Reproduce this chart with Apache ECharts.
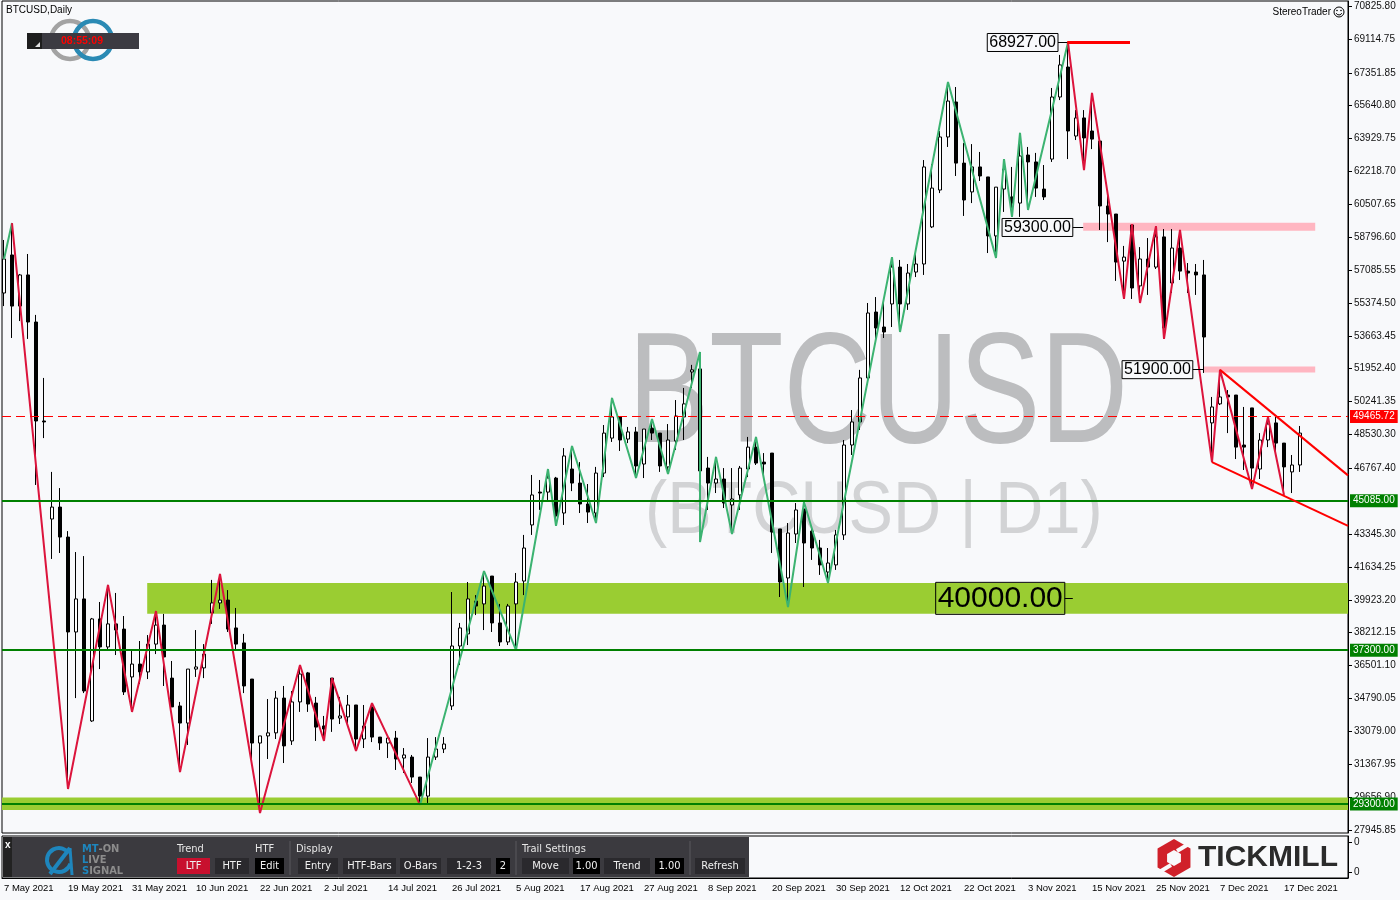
<!DOCTYPE html>
<html><head><meta charset="utf-8">
<script src="https://cdn.jsdelivr.net/npm/echarts@6/dist/echarts.min.js"></script>
<style>html,body{margin:0;padding:0;background:#f8f9fb;}#chart{width:1400px;height:900px;}</style>
</head><body><div id="chart"></div>
<script>
// ---------- DATA ----------
const dateTickIndex = [0,8,16,24,32,40,48,56,64,72,80,88,96,104,112,120,128,136,144,152,160];
const dateTicks = ['7 May 2021','19 May 2021','31 May 2021','10 Jun 2021','22 Jun 2021','2 Jul 2021','14 Jul 2021','26 Jul 2021','5 Aug 2021','17 Aug 2021','27 Aug 2021','8 Sep 2021','20 Sep 2021','30 Sep 2021','12 Oct 2021','22 Oct 2021','3 Nov 2021','15 Nov 2021','25 Nov 2021','7 Dec 2021','17 Dec 2021'];
const yTicks = [70825.80,69114.75,67351.85,65640.80,63929.75,62218.70,60507.65,58796.60,57085.55,55374.50,53663.45,51952.40,50241.35,48530.30,46767.40,43345.30,41634.25,39923.20,38212.15,36501.10,34790.05,33079.00,31367.95,29656.90,27945.85];

const opens = [55890,57870,55210,56830,54380,49230,44130,44750,43190,38250,
39970,33620,38930,37470,38670,38400,35910,36580,36170,37620,
38610,35850,34400,33510,36320,36380,39240,39760,39910,38460,
37680,35800,32470,32840,33000,34810,32580,34610,36120,34550,
33360,35850,33770,33830,34450,32680,34350,32780,32470,32730,
31690,31740,30700,29710,31740,32160,34400,37520,38150,39860,
39710,41160,38720,37730,39710,40900,43820,45530,45530,46260,
44440,46730,46000,44910,44440,46520,48340,49440,48290,48660,
46990,48860,48600,46840,48190,49440,51780,51940,46780,46000,
46210,44860,45380,46730,47870,47090,47560,43610,41060,43350,
44650,43500,42620,41370,41740,43300,47980,49180,51470,54900,
54120,55320,57240,55320,56980,57400,59330,61250,64010,65830,
62650,61150,62450,61930,58860,61300,60890,60570,63070,62710,
61300,62860,66090,67650,64060,65000,64320,63800,60420,60000,
57550,59430,56260,57660,57240,58810,56410,58230,57030,56980,
56830,49130,50120,50580,50580,47980,49910,46730,48240,49130,
48080,46580,46940];
const highs = [58650,59530,56880,57920,54750,51470,46580,45740,43500,42410,
42200,38980,39810,40700,40280,39080,37360,37780,38090,39340,
39190,36740,34610,36320,38350,37620,40960,41270,40430,39500,
38150,35800,32840,34760,35180,35440,35180,36530,36170,34870,
33880,35850,34870,34970,34450,34450,34550,32780,32780,33100,
32210,31850,30700,32730,32780,32780,40330,38720,40850,40170,
41420,41160,39710,39710,41320,43300,46420,46160,46730,46320,
47820,47930,47090,45950,46840,49020,50430,49440,48920,48920,
48810,49330,48600,49070,50320,50950,52150,52820,47360,47360,
46780,46780,46890,48400,48400,47560,47560,43610,43920,44960,
45010,43610,43040,42620,43560,48240,49800,51890,55370,55680,
55580,57760,57610,57400,58180,62810,62600,64320,66870,66610,
63700,63640,63230,61930,61400,62860,62450,64220,63490,63180,
62550,66560,68280,68927,65410,65410,66300,63900,60990,60000,
58340,59480,58280,58750,59370,59220,59220,59170,57450,57400,
57610,50480,51890,50840,50580,49960,49910,48600,49440,49440,
48080,47460,48970];
const lows = [55210,53550,54430,53500,45900,48340,42050,42360,30080,34810,
35070,33570,36320,37310,37050,34970,34090,35540,35800,37100,
35440,34350,30960,32370,35910,35850,38670,39450,38250,37310,
35070,31590,28830,31640,32680,31430,32370,34090,34090,32580,
32580,33050,33460,33510,32060,32210,32520,32110,31690,31070,
30910,30390,29250,29350,31590,31950,34190,36530,37570,39130,
38350,38250,37520,37570,37310,40170,43300,44600,45120,43770,
43820,45580,44440,43920,43920,46310,48140,47670,48080,46260,
46260,48240,46580,46470,47720,48240,50950,42930,44600,45480,
44700,43350,44600,46310,46940,46310,42360,40070,39550,42880,
40590,42000,41220,40800,41480,43040,47460,48760,51100,53450,
53550,54120,53860,55010,56720,56830,59270,61090,63490,61980,
59900,60570,61720,57970,57710,60110,59850,59850,60210,60890,
60730,62710,65930,62860,63850,62290,63380,59170,58540,56520,
55580,55580,55370,55790,57140,53500,55890,56570,55890,55790,
51730,47090,50060,48600,47250,46680,45690,46210,47870,47620,
45380,45480,46580];
const closes = [57660,55210,56830,54380,49230,49180,44750,43190,38250,39970,
35180,38930,37470,38670,38350,35130,36580,36170,37620,38610,
36950,34350,33510,36320,36430,37100,39760,39910,38400,37620,
35440,32470,32840,33000,34810,32320,34610,36060,34500,33300,
33200,33720,33880,34450,32680,33360,32780,32470,32730,31640,
31850,30700,29710,31740,32160,32420,37520,38460,39970,39600,
40640,38720,37730,39600,40850,42620,45380,45480,46260,44290,
47410,46000,44910,44490,46520,48600,49440,48240,48660,46890,
48810,48600,46890,48240,49490,50120,51890,46630,46000,46210,
44960,45170,46780,47870,47040,46990,43450,40850,43400,44600,
42880,42620,41740,41840,43300,47980,49180,51470,54850,54070,
53860,57240,55320,56930,57400,62450,61350,64010,65880,62650,
60730,62450,61980,58860,61400,62340,60570,63020,62710,61350,
60890,66090,67760,64320,65000,63960,63900,60420,60000,57500,
57760,56150,57660,57240,58810,54070,58230,57030,56930,56830,
53600,49960,50480,50480,47870,47870,46780,48240,49070,48080,
46840,46940,48600];

// zigzag swing points [bar index, price]
const zzGreenA = [[0,57660],[1,59530]];
const zzRedA = [[1,59530],[8,30080],[13,40700],[16,34090],[19,39340],[22,30960],[27,41270],[32,28830],[37,36530],[40,32580],[41,35850],[44,32060],[46,34550],[52,29250]];
const zzGreenB = [[52,29250],[60,41420],[64,37310],[68,46730],[69,43770],[71,47930],[74,43920],[76,50430],[79,46260],[81,49330],[83,46470],[87,52820],[87,42930],[89,47360],[91,43350],[94,48400],[98,39550],[100,45010],[103,40800],[111,57760],[112,53860],[118,66870],[124,57710],[125,62860],[126,59850],[127,64220],[128,60210],[133,68927]];
const zzRedB = [[133,68927],[135,62290],[136,66300],[140,55580],[141,59480],[142,55370],[144,59370],[145,53500],[147,59170],[151,47090],[152,51890],[156,45690],[158,49440],[160,45380]];

// levels
const bidPrice = 49465.72;
const greenLevels = [45085, 37300, 29300];
const bandBottom = [28990, 29630];
const band40k = [39200, 40800];
const pinkBand59 = [59130, 59550];
const pinkBand52 = [51750, 52060];
const athLevel = 68927;
const annLevels = [68927, 59300, 51900, 40000];
const trendUpper = [[152, 51890], [168, 46400]];
const trendLower = [[151, 47090], [168, 43770]];

// ---------- CHART ----------
const candleData = opens.map((o, i) => [i, o, closes[i], lows[i], highs[i]]);
const FONT = 'Liberation Sans';
const chart = echarts.init(document.getElementById('chart'), null, {renderer: 'canvas'});

const axisBoxLabel = (bg) => ({show: true, position: 'end', distance: 2, color: '#fff', backgroundColor: bg,
  fontSize: 10, fontFamily: FONT, padding: [2, 3, 1, 3], formatter: p => Number(p.value).toFixed(2)});

const annConf = [
  {x: [131.75, 132.9], size: 16},
  {x: [133.6, 134.9], size: 16},
  {x: [148.6, 149.9], size: 16},
  {x: [132.6, 133.6], size: 30}
];
const annLines = annLevels.map((v, k) => [
  {coord: [annConf[k].x[0], v], lineStyle: {color: '#000', width: 1, type: 'solid'},
   label: {show: true, position: 'start', distance: 0, color: '#000', fontSize: annConf[k].size, fontFamily: FONT,
     borderColor: '#000', borderWidth: 1, padding: [2, 2, 0, 2], formatter: () => v.toFixed(2)}},
  {coord: [annConf[k].x[1], v]}
]);

const markLineData = [
  {yAxis: bidPrice, lineStyle: {color: '#ff0000', width: 1, type: [9, 5]}, label: axisBoxLabel('#ff0000')},
  ...greenLevels.map(v => ({yAxis: v, lineStyle: {color: '#008000', width: 2, type: 'solid'}, label: axisBoxLabel('#008000')})),
  [{coord: [132.9, athLevel], lineStyle: {color: '#ff0000', width: 3, type: 'solid'}, label: {show: false}}, {coord: [140.75, athLevel]}],
  [{coord: trendUpper[0], lineStyle: {color: '#ff0000', width: 2, type: 'solid'}, label: {show: false}}, {coord: trendUpper[1]}],
  [{coord: trendLower[0], lineStyle: {color: '#ff0000', width: 2, type: 'solid'}, label: {show: false}}, {coord: trendLower[1]}],
  ...annLines
];

const markAreaData = [
  [{xAxis: -0.25, yAxis: bandBottom[0], itemStyle: {color: '#9acd32'}}, {xAxis: 168, yAxis: bandBottom[1]}],
  [{xAxis: 17.9, yAxis: band40k[0], itemStyle: {color: '#9acd32'}}, {xAxis: 168, yAxis: band40k[1]}],
  [{xAxis: 134.9, yAxis: pinkBand59[0], itemStyle: {color: '#ffb6c1'}}, {xAxis: 163.9, yAxis: pinkBand59[1]}],
  [{xAxis: 149.9, yAxis: pinkBand52[0], itemStyle: {color: '#ffb6c1'}}, {xAxis: 163.9, yAxis: pinkBand52[1]}]
];

const zzSeries = (data, color) => ({type: 'line', data, xAxisIndex: 0, yAxisIndex: 0, symbol: 'none', z: 4,
  lineStyle: {color, width: 2}, silent: true, animation: false});

// decorations
const G = [];
// watermark
G.push({type: 'text', x: 628, y: 398, scaleX: 0.77, z: -10, silent: true,
  style: {text: 'BTCUSD', fontSize: 158, fontFamily: FONT, fill: '#bcbdbf', verticalAlign: 'middle', align: 'left'}});
G.push({type: 'text', x: 645, y: 513, scaleX: 0.9, z: -10, silent: true,
  style: {text: '(BTCUSD | D1)', fontSize: 74, fontFamily: FONT, fill: '#d2d3d5', verticalAlign: 'middle', align: 'left'}});
// top-left
G.push({type: 'text', x: 6, y: 10, style: {text: 'BTCUSD,Daily', fontSize: 10, fontFamily: FONT, fill: '#000', verticalAlign: 'middle'}});
G.push({type: 'circle', shape: {cx: 70, cy: 40, r: 19}, style: {fill: 'none', stroke: '#a3a3a3', lineWidth: 4.5}});
G.push({type: 'circle', shape: {cx: 93, cy: 40, r: 19}, style: {fill: 'none', stroke: '#2a8ab4', lineWidth: 4.5}});
G.push({type: 'rect', shape: {x: 27, y: 33, width: 112, height: 16}, style: {fill: '#3c3b42'}});
G.push({type: 'rect', shape: {x: 27, y: 33, width: 15, height: 16}, style: {fill: '#1e1e1e'}});
G.push({type: 'polygon', shape: {points: [[35, 47], [40, 42], [40, 47]]}, style: {fill: '#e0e0e0'}});
G.push({type: 'text', x: 61, y: 41, style: {text: '08:55:09', fontSize: 10.5, fontWeight: 'bold', fontFamily: FONT, fill: '#ff0000', verticalAlign: 'middle'}});
// top-right
G.push({type: 'text', x: 1331, y: 12, style: {text: 'StereoTrader', fontSize: 10, fontFamily: FONT, fill: '#000', verticalAlign: 'middle', align: 'right'}});
G.push({type: 'circle', shape: {cx: 1339, cy: 12, r: 5}, style: {fill: 'none', stroke: '#000', lineWidth: 1}});
G.push({type: 'circle', shape: {cx: 1337, cy: 10.5, r: 0.8}, style: {fill: '#000'}});
G.push({type: 'circle', shape: {cx: 1341, cy: 10.5, r: 0.8}, style: {fill: '#000'}});
G.push({type: 'arc', shape: {cx: 1339, cy: 12, r: 3, startAngle: 0.4, endAngle: Math.PI - 0.4}, style: {stroke: '#000', lineWidth: 1, fill: 'none'}});
// toolbar
G.push({type: 'rect', shape: {x: 3, y: 837, width: 746, height: 40}, style: {fill: '#3b3a3f'}});
G.push({type: 'rect', shape: {x: 3, y: 837, width: 9, height: 40}, style: {fill: '#222'}});
G.push({type: 'text', x: 5, y: 845, style: {text: 'x', fontSize: 10, fontWeight: 'bold', fontFamily: FONT, fill: '#fff', verticalAlign: 'middle'}});
G.push({type: 'arc', shape: {cx: 59, cy: 860, r: 12, startAngle: 0.3, endAngle: Math.PI * 2 - 0.6}, style: {stroke: '#1e86bd', lineWidth: 4, fill: 'none'}});
G.push({type: 'line', shape: {x1: 50, y1: 874, x2: 70, y2: 848}, style: {stroke: '#1e86bd', lineWidth: 4}});
G.push({type: 'line', shape: {x1: 70, y1: 848, x2: 72, y2: 875}, style: {stroke: '#1e86bd', lineWidth: 3}});
const tbFont = "'DejaVu Sans Condensed','DejaVu Sans'";
const logoRich = {b: {fill: '#1e86bd', fontSize: 11, fontWeight: 'bold', fontFamily: tbFont}, g: {fill: '#8c8c8c', fontSize: 11, fontWeight: 'bold', fontFamily: tbFont}};
G.push({type: 'text', x: 82, y: 849, style: {text: '{b|MT}{g|-ON}', rich: logoRich, verticalAlign: 'middle'}});
G.push({type: 'text', x: 82, y: 860, style: {text: '{b|L}{g|IVE}', rich: logoRich, verticalAlign: 'middle'}});
G.push({type: 'text', x: 82, y: 871, style: {text: '{b|S}{g|IGNAL}', rich: logoRich, verticalAlign: 'middle'}});
[['Trend', 177], ['HTF', 255], ['Display', 296], ['Trail Settings', 522]].forEach(([t, x]) =>
  G.push({type: 'text', x, y: 849, style: {text: t, fontSize: 11, fontFamily: tbFont, fill: '#e6e6e6', verticalAlign: 'middle'}}));
[[177, 33, 'LTF', '#c8102e'], [215, 34, 'HTF', '#2a292d'], [255, 29, 'Edit', '#000'], [298, 40, 'Entry', '#2a292d'],
 [343, 53, 'HTF-Bars', '#2a292d'], [400, 41, 'O-Bars', '#2a292d'], [447, 44, '1-2-3', '#2a292d'], [496, 14, '2', '#000'],
 [522, 47, 'Move', '#2a292d'], [573, 27, '1.00', '#000'], [604, 46, 'Trend', '#2a292d'], [655, 29, '1.00', '#000'],
 [695, 50, 'Refresh', '#2a292d']].forEach(([x, w, t, c]) => {
  G.push({type: 'rect', shape: {x, y: 858, width: w, height: 16}, style: {fill: c}});
  G.push({type: 'text', x: x + w / 2, y: 866, style: {text: t, fontSize: 11, fontFamily: tbFont, fill: '#f0f0f0', align: 'center', verticalAlign: 'middle'}});
});
[290, 516, 690].forEach(x => G.push({type: 'line', shape: {x1: x, y1: 841, x2: x, y2: 875}, style: {stroke: '#5a595e', lineWidth: 1}}));
// Tickmill logo
const hex = (cx, cy, r) => [0, 1, 2, 3, 4, 5].map(k => [cx + r * Math.cos(-Math.PI / 2 + k * Math.PI / 3), cy + r * Math.sin(-Math.PI / 2 + k * Math.PI / 3)]);
G.push({type: 'polygon', shape: {points: hex(1174, 858, 19)}, style: {fill: '#d0202a'}});
G.push({type: 'polygon', shape: {points: hex(1174, 858, 8)}, style: {fill: '#f8f9fb'}});
G.push({type: 'line', shape: {x1: 1177, y1: 851, x2: 1192, y2: 842}, style: {stroke: '#f8f9fb', lineWidth: 4}});
G.push({type: 'line', shape: {x1: 1171, y1: 865, x2: 1156, y2: 874}, style: {stroke: '#f8f9fb', lineWidth: 4}});
G.push({type: 'text', x: 1198, y: 858, style: {text: 'TICKMILL', fontSize: 30, fontWeight: 'bold', fontFamily: FONT, fill: '#2b2b2b', verticalAlign: 'middle'}});

const option = {
  backgroundColor: '#f8f9fb',
  animation: false,
  graphic: G,
  grid: [
    {left: 2, top: 1, width: 1346, height: 832, show: true, borderColor: '#000', borderWidth: 1, backgroundColor: 'transparent'},
    {left: 2, top: 836, width: 1346, height: 42, show: true, borderColor: '#000', borderWidth: 1, backgroundColor: 'transparent'}
  ],
  xAxis: [
    {type: 'value', gridIndex: 0, min: -0.25, max: 168, axisLine: {show: false, onZero: false}, axisTick: {show: false}, axisLabel: {show: false}, splitLine: {show: false}},
    {type: 'value', gridIndex: 1, min: -0.25, max: 168, position: 'bottom', axisLine: {show: true, onZero: false, lineStyle: {color: '#000'}}, axisTick: {show: false}, splitLine: {show: false},
     axisLabel: {show: true, customValues: dateTickIndex, align: 'left', margin: 5, color: '#000', fontSize: 9.5, fontFamily: FONT,
       formatter: v => dateTicks[dateTickIndex.indexOf(Math.round(v))] || ''}}
  ],
  yAxis: [
    {type: 'value', gridIndex: 0, position: 'right', min: 27788.7, max: 71086, splitLine: {show: false},
     axisLine: {show: true, onZero: false, lineStyle: {color: '#000'}},
     axisTick: {show: true, length: 4, customValues: yTicks, lineStyle: {color: '#000'}},
     axisLabel: {show: true, customValues: yTicks, margin: 6, color: '#111', fontSize: 10, fontFamily: FONT, formatter: v => v.toFixed(2)}},
    {type: 'value', gridIndex: 1, position: 'right', min: -0.2, max: 1.2, splitLine: {show: false},
     axisLine: {show: true, onZero: false, lineStyle: {color: '#000'}},
     axisTick: {show: true, length: 4, customValues: [0, 1], lineStyle: {color: '#000'}},
     axisLabel: {show: true, customValues: [0, 1], margin: 6, color: '#111', fontSize: 10, fontFamily: FONT, formatter: () => '0'}}
  ],
  series: [
    {type: 'candlestick', xAxisIndex: 0, yAxisIndex: 0, data: candleData, barWidth: 4, z: 3, silent: true,
     itemStyle: {color: '#ffffff', color0: '#000000', borderColor: '#000000', borderColor0: '#000000', borderWidth: 1},
     markArea: {silent: true, data: markAreaData},
     markLine: {silent: true, symbol: ['none', 'none'], precision: 2, data: markLineData}},
    zzSeries(zzGreenA, '#3cb371'),
    zzSeries(zzRedA, '#dc143c'),
    zzSeries(zzGreenB, '#3cb371'),
    zzSeries(zzRedB, '#dc143c'),
    {type: 'line', xAxisIndex: 1, yAxisIndex: 1, data: [], silent: true}
  ]
};
chart.setOption(option);
</script>
</body></html>
